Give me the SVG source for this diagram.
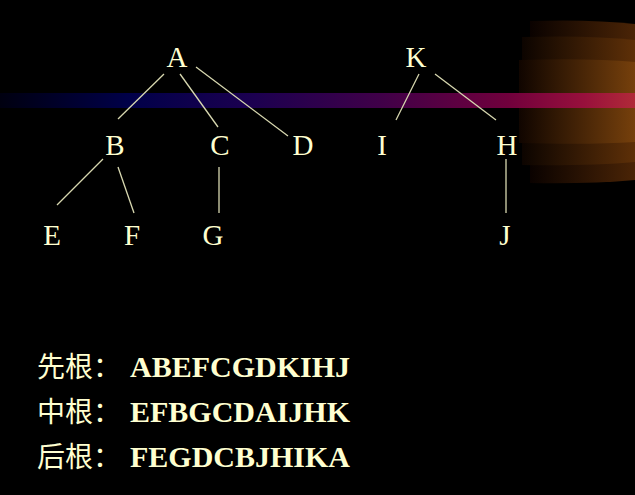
<svg xmlns="http://www.w3.org/2000/svg" width="635" height="495" viewBox="0 0 635 495">
<defs>
<linearGradient id="band" x1="0" y1="0" x2="1" y2="0">
<stop offset="0" stop-color="#000010"/>
<stop offset="0.2" stop-color="#000048"/>
<stop offset="0.4" stop-color="#1c0050"/>
<stop offset="0.6" stop-color="#400048"/>
<stop offset="0.8" stop-color="#70003c"/>
<stop offset="0.92" stop-color="#98103c"/>
<stop offset="1" stop-color="#b02a38"/>
</linearGradient>
<linearGradient id="g1" x1="0" y1="0" x2="1" y2="0">
<stop offset="0" stop-color="#0a0200"/>
<stop offset="1" stop-color="#4a2406"/>
</linearGradient>
<linearGradient id="g2" x1="0" y1="0" x2="1" y2="0">
<stop offset="0" stop-color="#0c0400"/>
<stop offset="1" stop-color="#5e3008"/>
</linearGradient>
<linearGradient id="g3" x1="0" y1="0" x2="1" y2="0">
<stop offset="0" stop-color="#100500"/>
<stop offset="1" stop-color="#76400c"/>
</linearGradient>
</defs>
<style>
.n{font-family:"Liberation Serif","Times New Roman",serif;font-size:29px;fill:#ffffd0;text-anchor:middle}
.t{font-family:"Liberation Serif","Noto Sans CJK SC",serif;font-size:29px;fill:#ffffd0}
.b{font-weight:bold;font-size:30px}
.c{font-family:"Noto Sans CJK SC",sans-serif;font-size:28px}
#edges line{stroke:#d8d8b0;stroke-width:1.3}
</style>
<rect width="635" height="495" fill="#000"/>
<g id="glow">
<path d="M530,21 Q590,19 635,24 L635,180 Q590,184 530,183 Z" fill="url(#g1)"/>
<path d="M522,37 Q590,35 635,40 L635,162 Q590,166 522,165 Z" fill="url(#g2)"/>
<path d="M519,60 Q590,58 635,62 L635,142 Q590,145 519,143 Z" fill="url(#g3)"/>
</g>
<rect id="band-bar" x="0" y="93" width="635" height="15" fill="url(#band)"/>
<g id="edges">
<line x1="164" y1="74" x2="118" y2="119"/>
<line x1="180" y1="74" x2="218" y2="127"/>
<line x1="196" y1="67" x2="288" y2="136"/>
<line x1="419" y1="74" x2="396" y2="120"/>
<line x1="435" y1="74" x2="496" y2="120"/>
<line x1="103" y1="159" x2="57" y2="205"/>
<line x1="118" y1="167" x2="134" y2="213"/>
<line x1="219" y1="167" x2="219" y2="213"/>
<line x1="506" y1="159" x2="506" y2="213"/>
</g>
<g id="nA"><text class="n" x="177" y="67">A</text></g>
<g id="nK"><text class="n" x="416" y="67">K</text></g>
<g id="nB"><text class="n" x="115" y="155">B</text></g>
<g id="nC"><text class="n" x="220" y="155">C</text></g>
<g id="nD"><text class="n" x="303" y="155">D</text></g>
<g id="nI"><text class="n" x="382" y="155">I</text></g>
<g id="nH"><text class="n" x="507" y="155">H</text></g>
<g id="nE"><text class="n" x="52" y="245">E</text></g>
<g id="nF"><text class="n" x="132" y="245">F</text></g>
<g id="nG"><text class="n" x="213" y="245">G</text></g>
<g id="nJ"><text class="n" x="505" y="245">J</text></g>
<g id="orders">
<text class="t" x="37" y="377"><tspan class="c">先根：</tspan><tspan class="b" x="130">ABEFCGDKIHJ</tspan></text>
<text class="t" x="37" y="422"><tspan class="c">中根：</tspan><tspan class="b" x="130">EFBGCDAIJHK</tspan></text>
<text class="t" x="37" y="467"><tspan class="c">后根：</tspan><tspan class="b" x="130">FEGDCBJHIKA</tspan></text>
</g>
</svg>
